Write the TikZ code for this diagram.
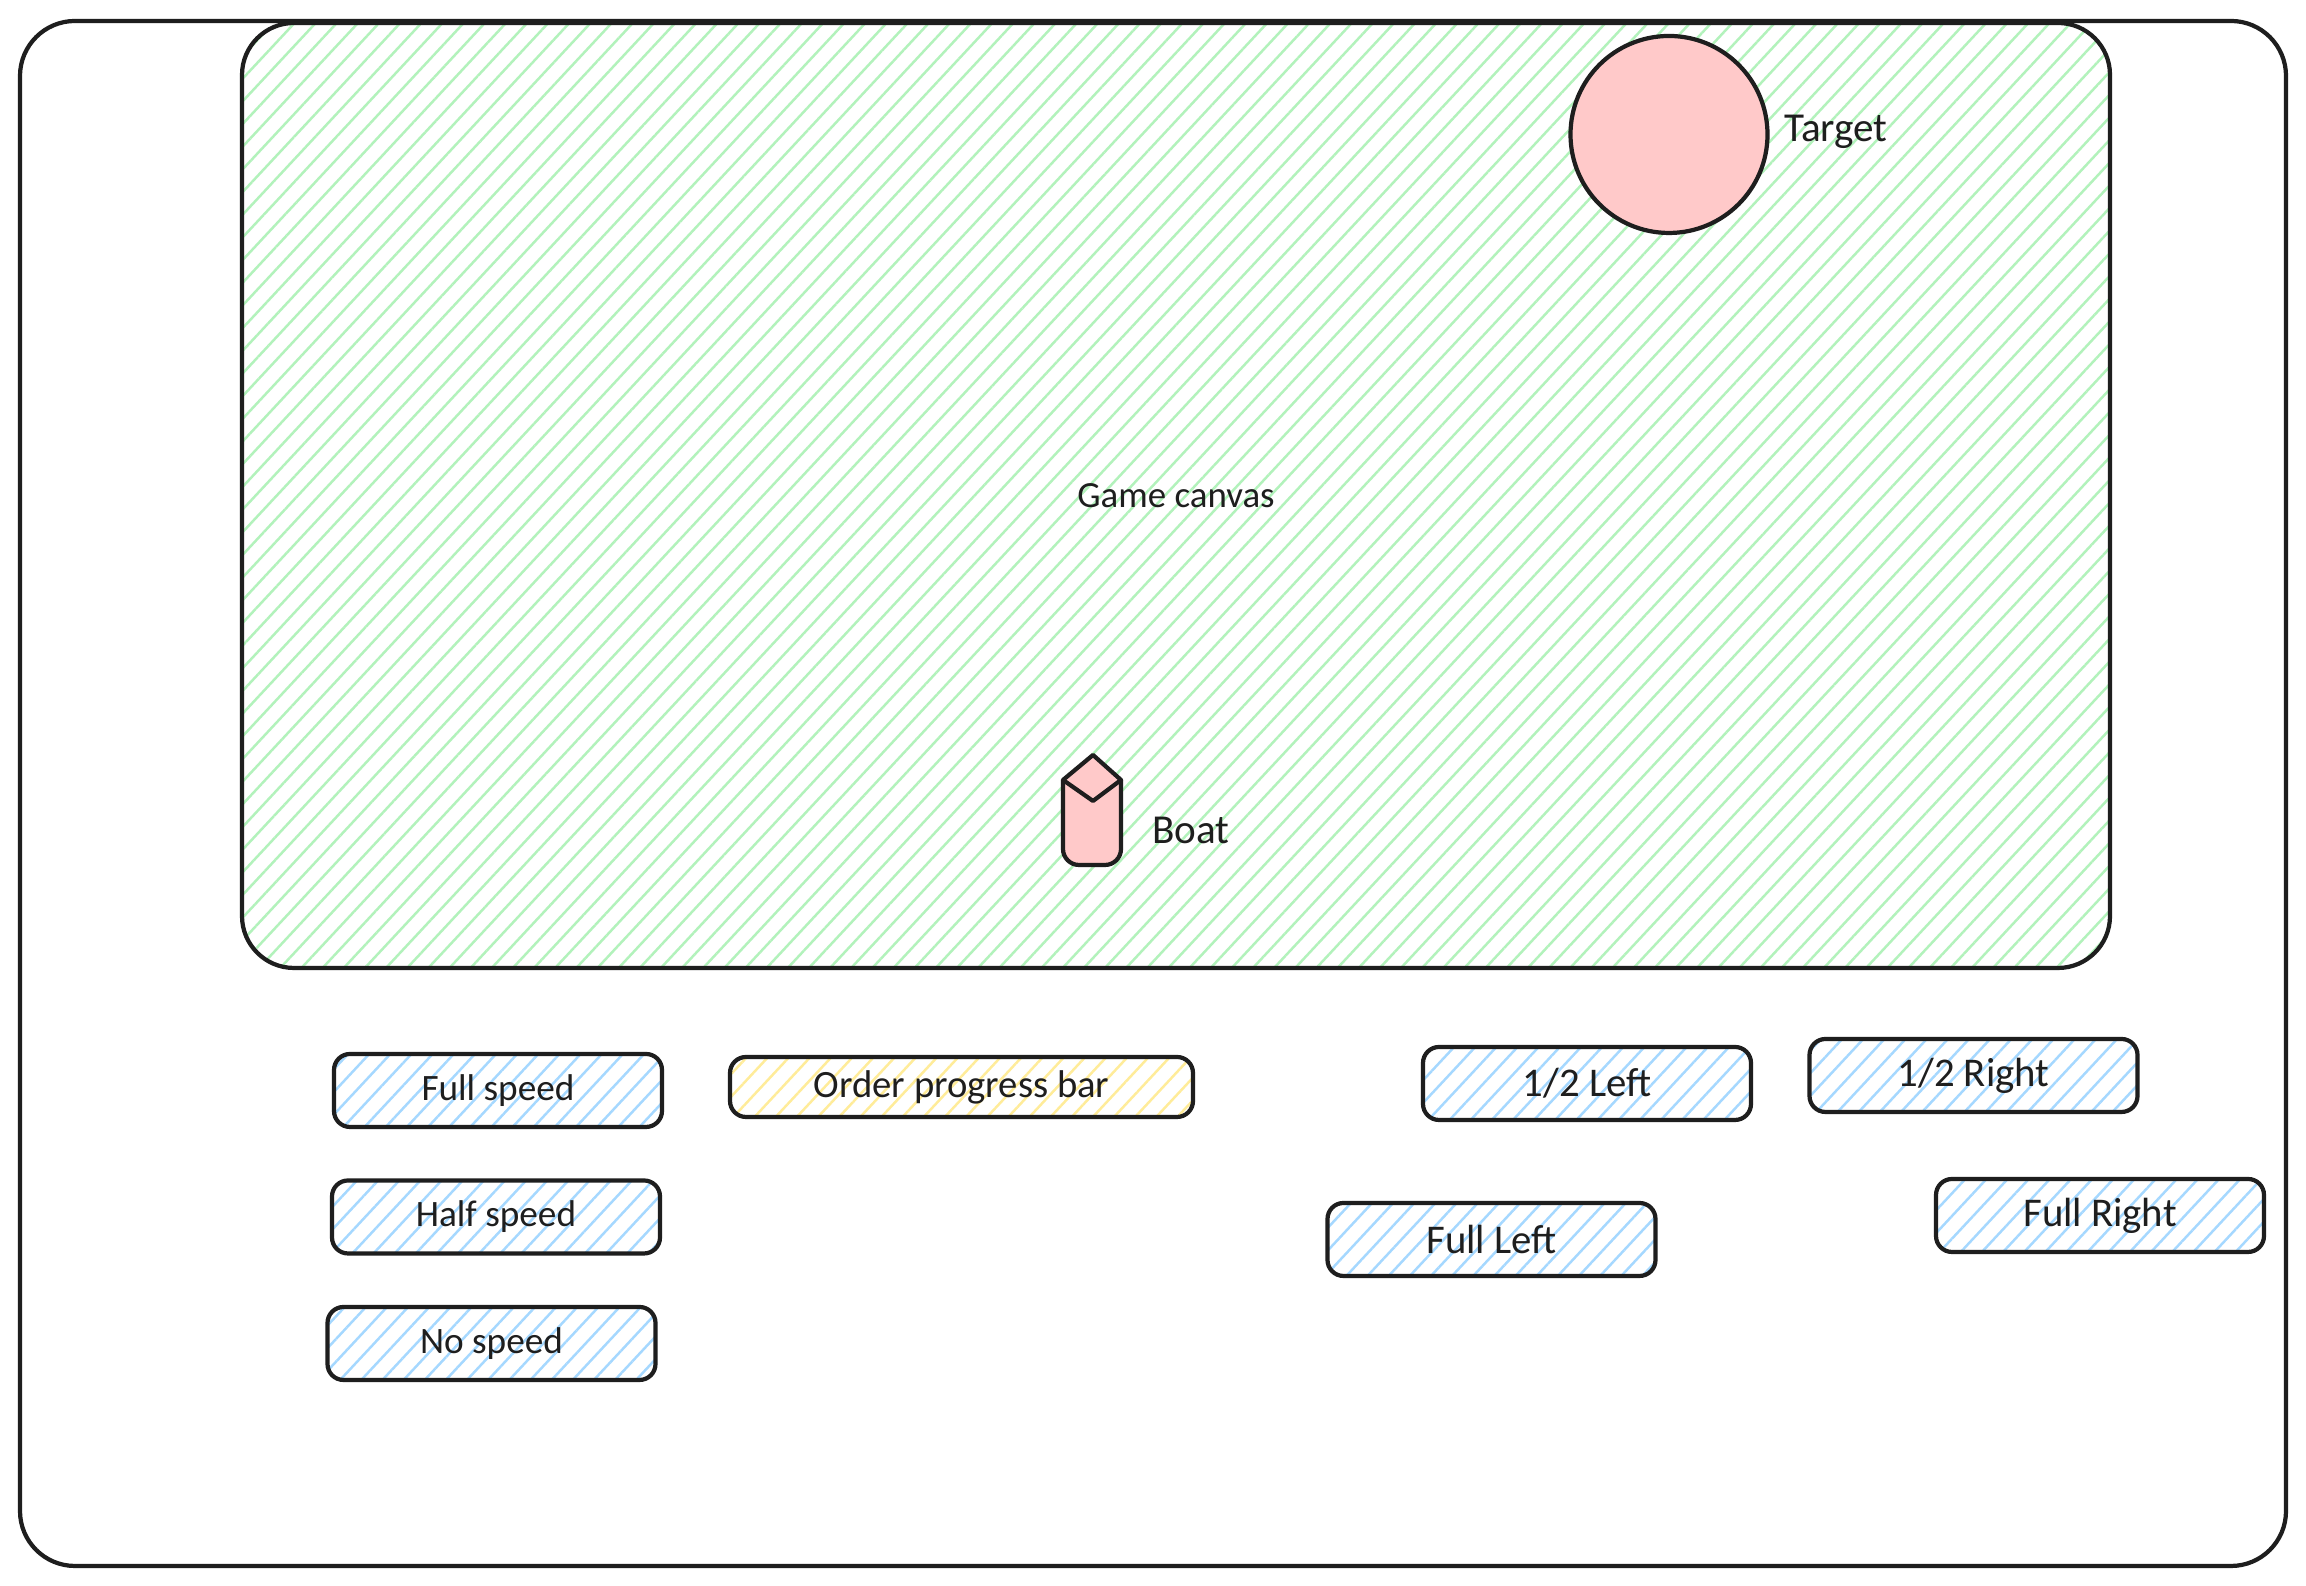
\documentclass[tikz,border=0pt]{standalone}
\usepackage{fontspec}
\setmainfont{Carlito}
\usepackage{tikz}
\usetikzlibrary{patterns.meta}

\definecolor{inkline}{HTML}{1E1E1E}
\definecolor{hatchgreen}{HTML}{B2F2BB}
\definecolor{hatchblue}{HTML}{A5D8FF}
\definecolor{hatchyellow}{HTML}{FFEC99}
\definecolor{redfill}{HTML}{FFC9C9}

\tikzset{
  sketch/.style={draw=inkline, line width=1.2pt, text=inkline},
  lbl/.style={text=inkline, font=\fontsize{11.7}{13}\selectfont, inner sep=0pt},
  hatch/.style={pattern={Lines[angle=47, distance=4.4pt, line width=0.7pt]}, pattern color=#1},
  btn/.style={sketch, hatch=hatchblue, rounded corners=0.16cm, minimum width=3.28cm, minimum height=0.73cm, font=\fontsize{10.6}{12}\selectfont, inner sep=0pt},
  turnbtn/.style={btn, font=\fontsize{11.6}{13}\selectfont},
}

\begin{document}
\begin{tikzpicture}

\useasboundingbox (0,0) rectangle (23.06,15.86);
\fill[white] (0,0) rectangle (23.06,15.86);

\node[sketch, rounded corners=0.55cm, minimum width=22.66cm, minimum height=15.45cm] (frame) at (11.53,7.925) {};

\node[sketch, hatch=hatchgreen, rounded corners=0.52cm, minimum width=18.68cm, minimum height=9.45cm, font=\fontsize{10.5}{12}\selectfont] (canvas) at (11.76,10.905) {Game canvas};

\node[sketch, circle, fill=redfill, minimum size=1.97cm, inner sep=0pt] (target) at (16.69,14.515) {};
\node[lbl] (targetlabel) at (18.36,14.54) {Target};

\draw[sketch, fill=redfill, rounded corners=0.16cm] (10.63,8.06) -- (10.63,7.21) -- (11.21,7.21) -- (11.21,8.06);
\draw[sketch, fill=redfill, line join=round] (10.63,8.06) -- (10.93,8.31) -- (11.21,8.06) -- (10.93,7.85) -- cycle;
\node[lbl] (boatlabel) at (11.91,7.56) {Boat};

\node[btn] (fullspeed) at (4.98,4.955) {Full speed};
\node[btn] (halfspeed) at (4.96,3.69) {Half speed};
\node[btn] (nospeed) at (4.915,2.425) {No speed};

\node[btn, hatch=hatchyellow, minimum width=4.63cm, minimum height=0.6cm, font=\fontsize{11}{12}\selectfont] (progressbar) at (9.615,4.99) {Order progress bar};

\node[turnbtn] (halfleft) at (15.87,5.025) {1/2 Left};
\node[turnbtn] (halfright) at (19.735,5.105) {1/2 Right};
\node[turnbtn] (fullleft) at (14.915,3.465) {Full Left};
\node[turnbtn] (fullright) at (21.0,3.705) {Full Right};

\end{tikzpicture}
\end{document}
